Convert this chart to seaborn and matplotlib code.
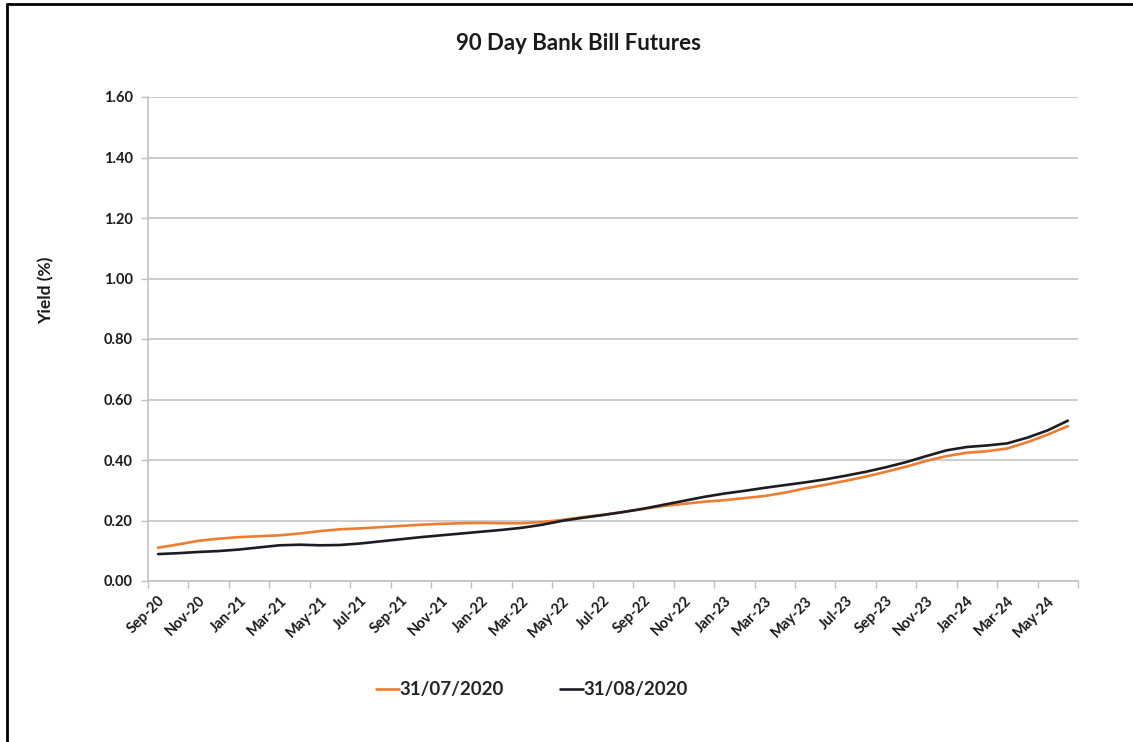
import matplotlib
matplotlib.use("Agg")
import matplotlib.pyplot as plt
from matplotlib.lines import Line2D
import numpy as np
import pandas as pd
import seaborn as sns

# Contract months (monthly category axis, labelled every second month)
months = ["Sep-20", "Oct-20", "Nov-20", "Dec-20", "Jan-21", "Feb-21", "Mar-21", "Apr-21",
          "May-21", "Jun-21", "Jul-21", "Aug-21", "Sep-21", "Oct-21", "Nov-21", "Dec-21",
          "Jan-22", "Feb-22", "Mar-22", "Apr-22", "May-22", "Jun-22", "Jul-22", "Aug-22",
          "Sep-22", "Oct-22", "Nov-22", "Dec-22", "Jan-23", "Feb-23", "Mar-23", "Apr-23",
          "May-23", "Jun-23", "Jul-23", "Aug-23", "Sep-23", "Oct-23", "Nov-23", "Dec-23",
          "Jan-24", "Feb-24", "Mar-24", "Apr-24", "May-24", "Jun-24"]

# Implied yields (%)
yield_jul = [0.110, 0.121, 0.133, 0.140, 0.145, 0.148, 0.151, 0.157, 0.165, 0.171,
             0.174, 0.178, 0.182, 0.186, 0.189, 0.191, 0.192, 0.191, 0.191, 0.195,
             0.202, 0.211, 0.219, 0.228, 0.238, 0.248, 0.255, 0.262, 0.267, 0.274,
             0.281, 0.292, 0.306, 0.318, 0.331, 0.345, 0.361, 0.378, 0.397, 0.413,
             0.424, 0.429, 0.438, 0.459, 0.484, 0.512]
yield_aug = [0.089, 0.092, 0.096, 0.099, 0.104, 0.111, 0.118, 0.120, 0.118, 0.119,
             0.124, 0.131, 0.138, 0.145, 0.151, 0.157, 0.163, 0.169, 0.176, 0.186,
             0.199, 0.209, 0.218, 0.228, 0.239, 0.252, 0.265, 0.278, 0.289, 0.298,
             0.308, 0.317, 0.326, 0.336, 0.348, 0.361, 0.376, 0.393, 0.413, 0.432,
             0.443, 0.448, 0.455, 0.474, 0.498, 0.530]

series_names = ["31/07/2020", "31/08/2020"]
y_ticks = [0.0, 0.2, 0.4, 0.6, 0.8, 1.0, 1.2, 1.4, 1.6]

n = len(months)
df = pd.DataFrame({
    "pos": list(range(n)) * 2,
    "Yield": yield_jul + yield_aug,
    "Curve": [series_names[0]] * n + [series_names[1]] * n,
})

sns.set_theme(style="white")
plt.rcParams["font.family"] = ["Lato", "DejaVu Sans"]

fig = plt.figure(figsize=(11.33, 7.42), dpi=100)
ax = fig.add_axes([148 / 1133, 1 - 581 / 742, (1078 - 148) / 1133, (581 - 97) / 742])

palette = {series_names[0]: "#ED7D31", series_names[1]: "#1C1C24"}
sns.lineplot(data=df, x="pos", y="Yield", hue="Curve", palette=palette,
             linewidth=1.9, ax=ax, legend=False, sort=True)

ax.set_xlim(-0.5, n - 0.5)
ax.set_ylim(0, 1.6)
ax.set_yticks(y_ticks)
ax.set_yticklabels([f"{v:.2f}" for v in y_ticks], fontsize=10.5, fontweight="bold", color="#1a1a1a")
ax.yaxis.grid(True, color="#c0c0c0", linewidth=1.1)
ax.set_axisbelow(True)

# tick marks on category boundaries, labels on every second category
ax.set_xticks(np.arange(-0.5, n, 2))
ax.set_xticklabels([])
ax.set_xticks(np.arange(0, n, 2), minor=True)
ax.set_xticklabels(months[::2], minor=True, rotation=45, ha="right",
                   rotation_mode="anchor", fontsize=10.5, fontweight="bold", color="#1a1a1a")
ax.tick_params(axis="x", which="major", length=5, width=1, color="#bfbfbf", direction="out",
               bottom=True)
ax.tick_params(axis="x", which="minor", length=0, pad=9)
ax.tick_params(axis="y", length=5, width=1, color="#bfbfbf", direction="out", left=True, pad=6)

for side in ["top", "right"]:
    ax.spines[side].set_visible(False)
for side in ["left", "bottom"]:
    ax.spines[side].set_color("#bfbfbf")
    ax.spines[side].set_linewidth(1.1)

ax.set_xlabel("")
ax.set_ylabel("")
fig.text(46 / 1133, 1 - 290 / 742, "Yield (%)", rotation=90, ha="center", va="center",
         fontsize=12.5, fontweight="bold", color="#1a1a1a")
fig.text(579 / 1133, 1 - 44 / 742, "90 Day Bank Bill Futures", ha="center", va="center",
         fontsize=16, fontweight="bold", color="#1a1a1a")

handles = [Line2D([], [], color=palette[s], linewidth=1.9) for s in series_names]
fig.legend(handles, series_names, loc="center", bbox_to_anchor=(532 / 1133, 1 - 690 / 742),
           ncol=2, frameon=False, handlelength=1.2, handletextpad=0.05, columnspacing=3.0,
           prop={"size": 13.5, "weight": "bold"})

# outer frame
fig.add_artist(Line2D([7 / 1133, 7 / 1133], [0, 1 - 4 / 742], color="black", linewidth=2,
                      transform=fig.transFigure))
fig.add_artist(Line2D([7 / 1133, 1], [1 - 4 / 742, 1 - 4 / 742], color="black", linewidth=2,
                      transform=fig.transFigure))

fig.savefig("out.png", dpi=100, facecolor="white")
